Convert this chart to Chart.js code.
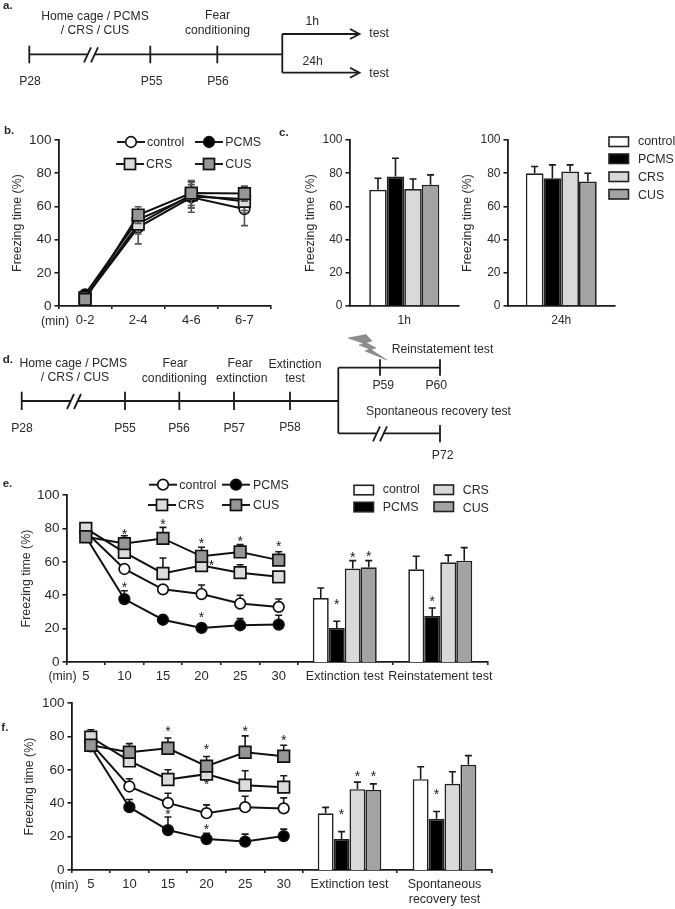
<!DOCTYPE html>
<html>
<head>
<meta charset="utf-8">
<title>Freezing time</title>
<script src="https://cdn.jsdelivr.net/npm/chart.js@4"></script>
<style>
  html, body { margin: 0; padding: 0; background: #fff; }
  body { position: relative; width: 675px; height: 909px; overflow: hidden; }
  canvas { position: absolute; }
  #overlay { position: absolute; left: 0; top: 0; pointer-events: none; font-family: "Liberation Sans", Arial, sans-serif; }
</style>
</head>
<body>
<svg id="overlay" width="675" height="909" xmlns="http://www.w3.org/2000/svg"></svg>
<script>
/* ---- data: panel b ---- */
const bLabels = ['0-2', '2-4', '4-6', '6-7'];
const bControl = [5, 47.4, 65.5, 58.4];
const bPcms = [7, 52, 66, 64.5];
const bCrs = [5, 49.4, 67, 63];
const bCus = [4, 54.8, 68, 67.7];
const bControlErr = [1, 10, 9, 10];
const bPcmsErr = [1.5, 5, 7, 7];
const bCrsErr = [1, 6, 8, 7];
const bCusErr = [1.5, 5, 7.5, 4.5];

/* ---- data: panel c ---- */
const c1hLabels = ['1h'];
const c1hControl = [70];
const c1hPcms = [78];
const c1hCrs = [70.5];
const c1hCus = [73];
const c1hControlErr = [7];
const c1hPcmsErr = [11];
const c1hCrsErr = [6];
const c1hCusErr = [6];
const c24hLabels = ['24h'];
const c24hControl = [80];
const c24hPcms = [77];
const c24hCrs = [81];
const c24hCus = [75];
const c24hControlErr = [4];
const c24hPcmsErr = [8];
const c24hCrsErr = [4];
const c24hCusErr = [5];

/* ---- data: panel e ---- */
const timeLabels = ['5', '10', '15', '20', '25', '30'];
const eControl = [78, 55.7, 43.5, 40.7, 35, 33];
const ePcms = [75, 37.7, 25.3, 20.4, 22, 22.4];
const eCrs = [80, 65.7, 53, 57.7, 53.5, 51];
const eCus = [75, 70.9, 74, 63.3, 65.9, 61];
const eControlErr = [2, 2, 2, 5.4, 5, 4.7];
const ePcmsErr = [2, 5, 2.5, 2, 4, 5.6];
const eCrsErr = [2, 2, 9.3, 3, 4.7, 2.5];
const eCusErr = [3, 4.7, 6.6, 5.4, 4.4, 5];
const eLineStars = [[3, 1, 77.4], [3, 2, 83], [3, 3, 72], [3, 4, 73], [3, 5, 70], [1, 1, 45.3], [1, 3, 27.3], [2, 3, 58.7, 10]];
const eBarLabels = ['Extinction test', 'Reinstatement test'];
const eBarControl = [38.3, 55.5];
const eBarPcms = [20.4, 27.5];
const eBarCrs = [56, 59.7];
const eBarCus = [56.7, 60.7];
const eBarControlErr = [6, 7.8];
const eBarPcmsErr = [4, 4.8];
const eBarCrsErr = [4.7, 4.3];
const eBarCusErr = [4, 7.8];
const eBarStars = [[1, 0, 35], [2, 0, 63.3], [3, 0, 63.7], [1, 1, 37]];

/* ---- data: panel f ---- */
const fControl = [76, 50, 40.2, 34, 37.6, 36.9];
const fPcms = [74, 37.6, 23.9, 18.5, 17, 20.3];
const fCrs = [79.5, 65.3, 54.2, 57.4, 50.8, 49.6];
const fCus = [74.7, 70.5, 72.9, 62.2, 70.5, 68.1];
const fControlErr = [2, 4.6, 5.8, 5, 6.6, 6.3];
const fPcmsErr = [2, 4.6, 7.8, 3.5, 4.5, 4.2];
const fCrsErr = [4.5, 3, 5.8, 3, 8.6, 6.8];
const fCusErr = [3, 5.2, 6.1, 5.8, 9.8, 6.6];
const fLineStars = [[3, 2, 84], [3, 3, 73], [3, 4, 83.7], [3, 5, 78.3], [1, 2, 34.3], [1, 3, 25.3], [2, 3, 52.2]];
const fBarLabels = ['Extinction test', ['Spontaneous', 'recovery test']];
const fBarControl = [34, 54.4];
const fBarPcms = [18.5, 30.7];
const fBarCrs = [48.4, 51.6];
const fBarCus = [48, 63];
const fBarControlErr = [3.5, 7.4];
const fBarPcmsErr = [4.5, 4.3];
const fBarCrsErr = [4.2, 7.2];
const fBarCusErr = [3.6, 5.5];
const fBarStars = [[1, 0, 33.9], [2, 0, 57], [3, 0, 57], [1, 1, 46]];

const yTicks = [0, 20, 40, 60, 80, 100];
const groupNames = ['control', 'PCMS', 'CRS', 'CUS'];

const FONT = '"Liberation Sans", Arial, sans-serif';
const INK = '#1a1a1a';
const TEXT = '#2a2a2a';
const FILLS = { control: '#ffffff', PCMS: '#000000', CRS: '#d9d9d9', CUS: '#a3a3a3' };
const POINT_FILLS = { control: '#ffffff', PCMS: '#000000', CRS: '#dcdcdc', CUS: '#969696' };

Chart.defaults.animation = false;
Chart.defaults.font.family = FONT;
Chart.defaults.color = TEXT;

/* ---- error bars: a chart.js plugin reading dataset.errors through the scales ---- */
function errorBarPlugin(both) {
  return {
    id: 'errorBars',
    beforeDatasetDraw(chart, args) {
      const ds = chart.data.datasets[args.index];
      const yScale = chart.scales.y;
      const ctx = chart.ctx;
      ctx.save();
      ctx.strokeStyle = both ? '#555' : INK;
      ctx.lineWidth = 1.6;
      args.meta.data.forEach((el, i) => {
        const v = ds.data[i];
        const top = yScale.getPixelForValue(v + ds.errors[i]);
        const bottom = yScale.getPixelForValue(both ? v - ds.errors[i] : v);
        ctx.beginPath();
        ctx.moveTo(el.x, bottom);
        ctx.lineTo(el.x, top);
        ctx.moveTo(el.x - 3.5, top);
        ctx.lineTo(el.x + 3.5, top);
        if (both) {
          ctx.moveTo(el.x - 3.5, bottom);
          ctx.lineTo(el.x + 3.5, bottom);
        }
        ctx.stroke();
      });
      ctx.restore();
    },
  };
}

/* ---- significance stars: [dataset, category, value, optional dx] ---- */
function starPlugin(stars) {
  return {
    id: 'stars',
    afterDraw(chart) {
      const ctx = chart.ctx;
      ctx.save();
      ctx.fillStyle = INK;
      ctx.font = `14px ${FONT}`;
      ctx.textAlign = 'center';
      ctx.textBaseline = 'middle';
      stars.forEach(([d, c, v, dx]) => {
        const el = chart.getDatasetMeta(d).data[c];
        ctx.fillText('*', el.x + (dx || 0), chart.scales.y.getPixelForValue(v) + 2);
      });
      ctx.restore();
    },
  };
}

/* Builds one canvas so that the plot area lands exactly on box l/t/r/b. */
function makeChart(box, type, labels, datasets, extra) {
  const padTop = 12;
  const padRight = 12;
  const xHeight = 42;
  const canvasLeft = box.titleX ? box.titleX - 7.5 : box.l;
  const yWidth = box.l - canvasLeft;
  const canvas = document.createElement('canvas');
  canvas.width = Math.round(box.r - box.l + yWidth + padRight);
  canvas.height = Math.round(box.b - box.t + padTop + xHeight);
  canvas.style.left = canvasLeft + 'px';
  canvas.style.top = (box.t - padTop) + 'px';
  document.body.insertBefore(canvas, document.getElementById('overlay'));

  return new Chart(canvas, {
    type,
    data: { labels, datasets },
    plugins: [errorBarPlugin(extra.both), starPlugin(extra.stars || [])],
    options: {
      responsive: false,
      maintainAspectRatio: false,
      layout: { autoPadding: false, padding: { top: padTop, right: padRight, left: 0, bottom: 0 } },
      plugins: { legend: { display: false }, tooltip: { enabled: false }, title: { display: false } },
      scales: {
        x: {
          type: 'category',
          offset: true,
          afterFit: (s) => { s.height = xHeight; },
          border: { color: INK, width: 1.8 },
          grid: { offset: true, drawOnChartArea: false, drawTicks: !!extra.xTicks, tickLength: 3, color: INK, lineWidth: 1.6 },
          ticks: { autoSkip: false, maxRotation: 0, minRotation: 0, padding: extra.xTicks ? 4 : 7, color: TEXT, font: { size: extra.xFont || 13 } },
        },
        y: {
          display: !!box.titleX,
          min: 0,
          max: 100,
          afterFit: (s) => { s.width = yWidth; },
          afterBuildTicks: (s) => { s.ticks = yTicks.map((value) => ({ value })); },
          border: { color: INK, width: 1.8 },
          grid: { drawOnChartArea: false, tickLength: 4, color: INK, lineWidth: 1.6 },
          ticks: { padding: 3, color: TEXT, font: { size: extra.yFont || 13.5 } },
          title: { display: true, text: 'Freezing time (%)', color: TEXT, padding: 0, font: { size: 12.4 } },
        },
      },
    },
  });
}

function lineSets(values, errors) {
  const styles = [
    { pointStyle: 'circle', pointRadius: 5.3, order: 4 },
    { pointStyle: 'circle', pointRadius: 5.3, order: 3 },
    { pointStyle: 'rect', pointRadius: 8.2, order: 2 },
    { pointStyle: 'rect', pointRadius: 8.2, order: 1 },
  ];
  return groupNames.map((name, i) => ({
    label: name,
    data: values[i],
    errors: errors[i],
    borderColor: '#111',
    borderWidth: 2,
    pointBorderColor: '#111',
    pointBorderWidth: 1.7,
    pointBackgroundColor: POINT_FILLS[name],
    tension: 0,
    clip: false,
    ...styles[i],
  }));
}

function barSets(values, errors, catPct) {
  return groupNames.map((name, i) => ({
    label: name,
    data: values[i],
    errors: errors[i],
    backgroundColor: FILLS[name],
    borderColor: '#222',
    borderWidth: 1.7,
    barPercentage: 1,
    categoryPercentage: catPct,
  }));
}

/* ---- charts ---- */
makeChart({ l: 58, t: 140, r: 270, b: 306, titleX: 17 }, 'line', bLabels,
  lineSets([bControl, bPcms, bCrs, bCus], [bControlErr, bPcmsErr, bCrsErr, bCusErr]),
  { both: true, xTicks: true });

makeChart({ l: 349, t: 140, r: 458, b: 306, titleX: 310 }, 'bar', c1hLabels,
  barSets([c1hControl, c1hPcms, c1hCrs, c1hCus], [c1hControlErr, c1hPcmsErr, c1hCrsErr, c1hCusErr], 0.64),
  { xFont: 12, yFont: 12 });

makeChart({ l: 507, t: 140, r: 614, b: 306, titleX: 467 }, 'bar', c24hLabels,
  barSets([c24hControl, c24hPcms, c24hCrs, c24hCus], [c24hControlErr, c24hPcmsErr, c24hCrsErr, c24hCusErr], 0.66),
  { xFont: 12, yFont: 12 });

makeChart({ l: 66, t: 494.5, r: 297, b: 661, titleX: 26 }, 'line', timeLabels,
  lineSets([eControl, ePcms, eCrs, eCus], [eControlErr, ePcmsErr, eCrsErr, eCusErr]),
  { xTicks: true, stars: eLineStars });

makeChart({ l: 297, t: 494.5, r: 488, b: 661 }, 'bar', eBarLabels,
  barSets([eBarControl, eBarPcms, eBarCrs, eBarCus], [eBarControlErr, eBarPcmsErr, eBarCrsErr, eBarCusErr], 0.67),
  { xTicks: true, xFont: 12.5, stars: eBarStars });

makeChart({ l: 71, t: 703, r: 302, b: 870, titleX: 29 }, 'line', timeLabels,
  lineSets([fControl, fPcms, fCrs, fCus], [fControlErr, fPcmsErr, fCrsErr, fCusErr]),
  { xTicks: true, stars: fLineStars });

makeChart({ l: 302, t: 703, r: 492, b: 870 }, 'bar', fBarLabels,
  barSets([fBarControl, fBarPcms, fBarCrs, fBarCus], [fBarControlErr, fBarPcmsErr, fBarCrsErr, fBarCusErr], 0.67),
  { xTicks: true, xFont: 12.5, stars: fBarStars });

/* ---- schematics, legends and panel letters go on an svg over the canvases ---- */
const svg = document.getElementById('overlay');

function add(tag, attrs, content) {
  const el = document.createElementNS('http://www.w3.org/2000/svg', tag);
  Object.entries(attrs).forEach(([k, v]) => el.setAttribute(k, v));
  if (content) el.textContent = content;
  svg.appendChild(el);
  return el;
}
function txt(x, y, str, anchor, size, weight) {
  add('text', {
    x, y, 'text-anchor': anchor || 'middle', 'dominant-baseline': 'central',
    'font-size': size || 12.2, 'font-weight': weight || 'normal', fill: TEXT,
  }, str);
}
function ln(x1, y1, x2, y2, w) {
  add('line', { x1, y1, x2, y2, stroke: INK, 'stroke-width': w || 1.8 });
}
function tick(x, y1, y2) { ln(x, y1, x, y2); }
function breakMark(x, y) {
  add('rect', { x: x - 1, y: y - 3, width: 7, height: 6, fill: '#fff' });
  ln(x - 4, y + 8, x + 3, y - 7);
  ln(x + 3, y + 8, x + 10, y - 7);
}
function letter(x, y, str) { txt(x, y, str, 'start', 11.5, 'bold'); }

function markerLegend(x, y, name, textX) {
  ln(x - 14, y, x + 14, y, 2);
  if (name === 'control' || name === 'PCMS') {
    add('circle', { cx: x, cy: y, r: 5.3, fill: POINT_FILLS[name], stroke: '#111', 'stroke-width': 1.7 });
  } else {
    add('rect', { x: x - 5.5, y: y - 5.5, width: 11, height: 11, fill: POINT_FILLS[name], stroke: '#111', 'stroke-width': 1.7 });
  }
  txt(textX, y, name, 'start', 12.4);
}
function barLegend(x, y, name, textX, textY) {
  add('rect', { x, y, width: 19.5, height: 9.5, fill: FILLS[name], stroke: '#222', 'stroke-width': 1.6 });
  txt(textX, textY, name, 'start', 12.4);
}

/* panel a */
letter(3, 5, 'a.');
ln(29.3, 54.3, 282.3, 54.3);
tick(29.3, 45.7, 63.3);
tick(150.3, 45.7, 63.3);
tick(217.3, 45.7, 63.3);
breakMark(88, 54.3);
ln(282.3, 34, 282.3, 72.7);
[34, 72.7].forEach((y) => {
  ln(282.3, y, 359, y);
  add('polyline', { points: `350,${y - 5} 359.5,${y} 350,${y + 5}`, fill: 'none', stroke: INK, 'stroke-width': 1.8 });
});
txt(95, 15.7, 'Home cage / PCMS');
txt(95, 30, '/ CRS / CUS');
txt(217.5, 15, 'Fear');
txt(217.5, 30, 'conditioning');
txt(312.3, 21.3, '1h');
txt(312.7, 61, '24h');
txt(369.3, 33.3, 'test', 'start');
txt(369.3, 72.7, 'test', 'start');
txt(30, 81, 'P28');
txt(151.7, 81, 'P55');
txt(218, 81, 'P56');

/* panel b */
letter(4, 130, 'b.');
markerLegend(131, 142, 'control', 147);
markerLegend(209, 142, 'PCMS', 225.3);
markerLegend(130, 164, 'CRS', 146);
markerLegend(209, 164, 'CUS', 225.3);
txt(55, 321, '(min)', 'middle', 12.4);

/* panel c */
letter(279, 132, 'c.');
barLegend(609, 137, 'control', 638, 141);
barLegend(609, 154, 'PCMS', 638, 158.5);
barLegend(609, 172, 'CRS', 638, 177);
barLegend(609, 189.5, 'CUS', 638, 195);

/* panel d */
letter(2.7, 359, 'd.');
ln(21.7, 401, 338.3, 401);
[21.7, 125, 179.3, 234, 290].forEach((x) => tick(x, 391.7, 410));
breakMark(71, 401);
ln(338.3, 367.7, 338.3, 433.3);
ln(338.3, 367.7, 440, 367.7);
tick(380, 359.3, 375.7);
tick(440, 359.3, 375.7);
ln(338.3, 433.3, 440, 433.3);
tick(440, 425, 442.3);
breakMark(377, 433.3);
add('polygon', {
  points: '348,338 366,334.5 372,341 366,342.5 376,348 371,349.5 387,360 365,351 369.5,349 359,345 364,343.5',
  fill: '#8c8c8c', stroke: '#777', 'stroke-width': 0.5,
});
txt(73.3, 362.7, 'Home cage / PCMS');
txt(75, 377.3, '/ CRS / CUS');
txt(175, 362.7, 'Fear');
txt(174.3, 377.7, 'conditioning');
txt(240, 362.7, 'Fear');
txt(241.7, 377.7, 'extinction');
txt(295, 364, 'Extinction');
txt(295, 378.3, 'test');
txt(22, 427.7, 'P28');
txt(125, 427.7, 'P55');
txt(179, 427.7, 'P56');
txt(234.3, 427.7, 'P57');
txt(290, 426.7, 'P58');
txt(383.3, 385, 'P59');
txt(436.3, 385, 'P60');
txt(442.7, 455, 'P72');
txt(391.7, 348.7, 'Reinstatement test', 'start');
txt(366, 411, 'Spontaneous recovery test', 'start');

/* panel e */
letter(2.7, 482.7, 'e.');
markerLegend(163, 484.7, 'control', 179.3);
markerLegend(236, 484.7, 'PCMS', 253);
markerLegend(162, 505, 'CRS', 178);
markerLegend(236, 505, 'CUS', 253);
barLegend(354, 485.3, 'control', 382.7, 489);
barLegend(354, 502.3, 'PCMS', 382.7, 507);
barLegend(434, 485, 'CRS', 462.7, 490);
barLegend(434, 502, 'CUS', 462.7, 508);
txt(62.5, 676, '(min)', 'middle', 12.4);

/* panel f */
letter(1.3, 726.7, 'f.');
txt(64.5, 885, '(min)', 'middle', 12.4);
</script>
</body>
</html>
